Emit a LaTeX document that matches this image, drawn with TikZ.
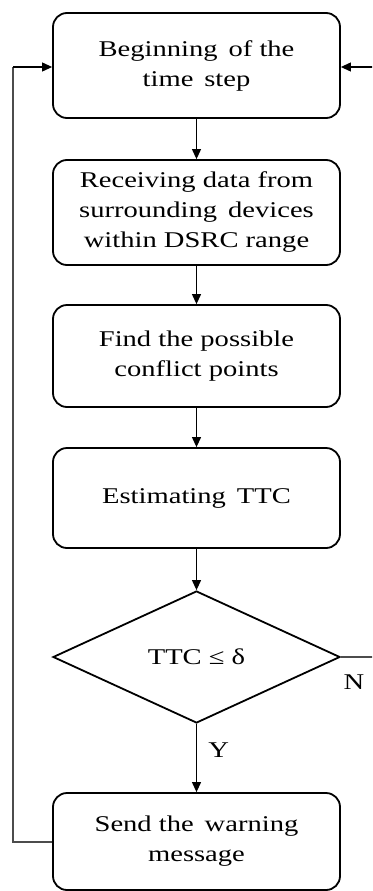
\documentclass[tikz,border=0pt]{standalone}
\usepackage{fontspec}
\setmainfont[FakeStretch=1.27]{Liberation Serif}
\usetikzlibrary{shapes.geometric,arrows.meta}
\begin{document}
\begin{tikzpicture}[x=1pt,y=-1pt,
  txt/.style={font=\fontsize{22.5}{30}\selectfont},
  proc/.style={draw,line width=1.8pt,rounded corners=14pt,minimum width=287pt,align=center,txt,inner sep=0pt},
  dec/.style={draw,line width=1.8pt,diamond,minimum width=287pt,minimum height=132pt,inner sep=0pt,txt},
  conn/.style={line width=1.1pt,-{Triangle[length=10pt,width=9pt]}},
  loopl/.style={line width=1.1pt,draw=black!70}]
\useasboundingbox (0,0) rectangle (372,891);
\clip (0,0) rectangle (372,891);
\node[proc,minimum height=105pt] (b1) at (196.5,65.5) {Beginning\, of the\\time\, step};
\node[proc,minimum height=105pt] (b2) at (196.5,212.5) {Receiving data from\\surrounding\, devices\\within DSRC range};
\node[proc,minimum height=102pt] (b3) at (196.5,356) {Find the possible\\conflict points};
\node[proc,minimum height=100pt] (b4) at (196.5,498) {Estimating\, TTC};
\node[dec] (d) at (196.5,657) {TTC ≤ δ};
\node[proc,minimum height=97pt] (b5) at (196.5,841.5) {Send the\, warning\\message};
\draw[conn] (b1) -- (b2);
\draw[conn] (b2) -- (b3);
\draw[conn] (b3) -- (b4);
\draw[conn] (b4) -- (d);
\draw[conn] (d) -- node[right=8pt,pos=0.38,txt] (y) {Y} (b5);
\coordinate (lc1) at (13,842);
\coordinate (lc2) at (13,67);
\draw[loopl] (b5.west |- lc1) -- (lc1) -- (lc2);
\draw[conn] (lc2) -- (b1.west |- lc2);
\coordinate (rc1) at (380,657);
\coordinate (rc2) at (380,67);
\draw[loopl] (d.east) -- (rc1) -- (rc2);
\draw[conn] (rc2) -- (b1.east |- rc2);
\node[txt] (n) at (354,682) {N};
\end{tikzpicture}
\end{document}
